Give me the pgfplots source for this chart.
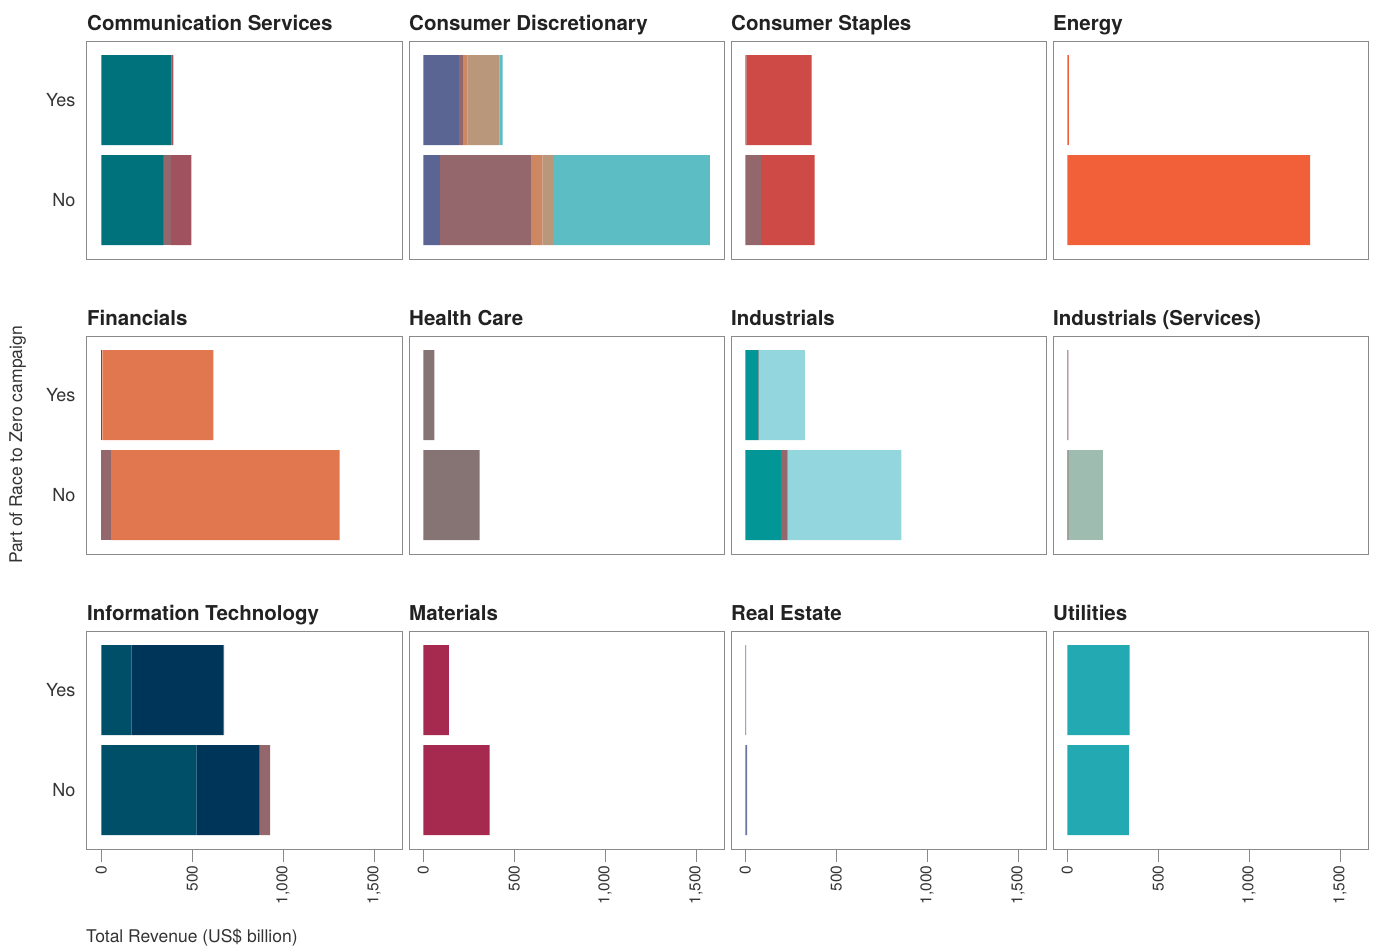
\documentclass[border=0pt]{standalone}
\usepackage{fontspec}
\setmainfont{TeX Gyre Heros}
\usepackage{pgfplots}
\pgfplotsset{compat=1.18}
\definecolor{framegray}{HTML}{8A8A8A}
\definecolor{txt}{HTML}{222222}
\definecolor{ticktxt}{HTML}{333333}
\definecolor{cteal}{HTML}{00727B}
\definecolor{cmauve}{HTML}{94676D}
\definecolor{credm}{HTML}{A0525F}
\definecolor{cblue}{HTML}{5A6594}
\definecolor{corange}{HTML}{CD8763}
\definecolor{ctan}{HTML}{B9977B}
\definecolor{ccyan}{HTML}{5DBDC4}
\definecolor{cred}{HTML}{CE4A46}
\definecolor{cenergy}{HTML}{F26039}
\definecolor{cfin}{HTML}{E1774F}
\definecolor{ccrim}{HTML}{A62A50}
\definecolor{chc}{HTML}{867475}
\definecolor{cindteal}{HTML}{039696}
\definecolor{clcyan}{HTML}{94D6DE}
\definecolor{csage}{HTML}{9FBCB1}
\definecolor{citteal}{HTML}{004F68}
\definecolor{cnavy}{HTML}{00355A}
\definecolor{creb}{HTML}{6C74A0}
\definecolor{cutil}{HTML}{22A9B1}
\pgfplotsset{
  panel/.style={
    xbar stacked, scale only axis, width=315pt, height=218pt,
    anchor=north west,
    xmin=-79, xmax=1654, ymin=-0.59, ymax=1.59,
    bar width=0.9,
    axis line style={draw=framegray, line width=1pt},
    xtick=\empty, ytick=\empty,
    tick align=outside, major tick length=13pt,
    title style={at={(0,1)}, anchor=base west, yshift=5pt, inner sep=0pt,
      font=\fontsize{20.5}{24}\selectfont\bfseries, text=txt},
    every axis plot/.append style={draw=none},
  },
  leftcol/.style={
    ytick={0,1}, yticklabels={No,Yes},
    ytick style={draw=none},
    yticklabel style={font=\fontsize{18}{21}\selectfont, text=ticktxt, xshift=5pt},
  },
  bottomrow/.style={
    xtick={0,500,1000,1500}, xtick pos=bottom,
    xtick style={draw=framegray, line width=1pt},
    xticklabel style={rotate=90, anchor=east, font=\fontsize{15.5}{18}\selectfont, text=ticktxt},
    /pgf/number format/.cd, 1000 sep={,}, assume math mode=true,
  },
}
\begin{document}
\begin{tikzpicture}
\useasboundingbox (0pt,0pt) rectangle (1377pt,-946pt);
% Row 1
\begin{axis}[panel, leftcol, at={(87pt,-41pt)}, title={Communication Services}]
\addplot[fill=cteal] coordinates {(341,0) (385,1)};
\addplot[fill=cmauve] coordinates {(40,0) (0,1)};
\addplot[fill=credm] coordinates {(114,0) (11,1)};
\end{axis}
\begin{axis}[panel, at={(409pt,-41pt)}, title={Consumer Discretionary}]
\addplot[fill=cblue] coordinates {(91,0) (195,1)};
\addplot[fill=cmauve] coordinates {(504,0) (27,1)};
\addplot[fill=corange] coordinates {(60,0) (22,1)};
\addplot[fill=ctan] coordinates {(59,0) (174,1)};
\addplot[fill=ccyan] coordinates {(862,0) (18,1)};
\end{axis}
\begin{axis}[panel, at={(731pt,-41pt)}, title={Consumer Staples}]
\addplot[fill=cmauve] coordinates {(85,0) (5,1)};
\addplot[fill=cred] coordinates {(296,0) (360,1)};
\end{axis}
\begin{axis}[panel, at={(1053pt,-41pt)}, title={Energy}]
\addplot[fill=cenergy] coordinates {(1335,0) (8,1)};
\end{axis}
% Row 2
\begin{axis}[panel, leftcol, at={(87pt,-336pt)}, title={Financials}]
\addplot[fill=ccrim] coordinates {(0,0) (6,1)};
\addplot[fill=cmauve] coordinates {(51,0) (0,1)};
\addplot[fill=cfin] coordinates {(1260,0) (610,1)};
\end{axis}
\begin{axis}[panel, at={(409pt,-336pt)}, title={Health Care}]
\addplot[fill=chc] coordinates {(310,0) (60,1)};
\end{axis}
\begin{axis}[panel, at={(731pt,-336pt)}, title={Industrials}]
\addplot[fill=cindteal] coordinates {(195,0) (71,1)};
\addplot[fill=cmauve] coordinates {(38,0) (4,1)};
\addplot[fill=clcyan] coordinates {(625,0) (252,1)};
\end{axis}
\begin{axis}[panel, at={(1053pt,-336pt)}, title={Industrials (Services)}]
\addplot[fill=cmauve] coordinates {(5,0) (5,1)};
\addplot[fill=csage] coordinates {(190,0) (0,1)};
\end{axis}
% Row 3
\begin{axis}[panel, leftcol, bottomrow, at={(87pt,-631pt)}, title={Information Technology}]
\addplot[fill=citteal] coordinates {(523,0) (166,1)};
\addplot[fill=cnavy] coordinates {(345,0) (504,1)};
\addplot[fill=cblue] coordinates {(6,0) (0,1)};
\addplot[fill=cmauve] coordinates {(55,0) (6,1)};
\end{axis}
\begin{axis}[panel, bottomrow, at={(409pt,-631pt)}, title={Materials}]
\addplot[fill=ccrim] coordinates {(365,0) (140,1)};
\end{axis}
\begin{axis}[panel, bottomrow, at={(731pt,-631pt)}, title={Real Estate}]
\addplot[fill=creb] coordinates {(10,0) (4,1)};
\end{axis}
\begin{axis}[panel, bottomrow, at={(1053pt,-631pt)}, title={Utilities}]
\addplot[fill=cutil] coordinates {(338,0) (343,1)};
\end{axis}
% Labels
\node[rotate=90, anchor=base, inner sep=0pt, text=ticktxt, font=\fontsize{17.5}{20}\selectfont] at (22pt,-445pt) {Part of Race to Zero campaign};
\node[anchor=base west, inner sep=0pt, text=ticktxt, font=\fontsize{17.5}{20}\selectfont] at (86pt,-942pt) {Total Revenue (US\$ billion)};
\end{tikzpicture}
\end{document}
